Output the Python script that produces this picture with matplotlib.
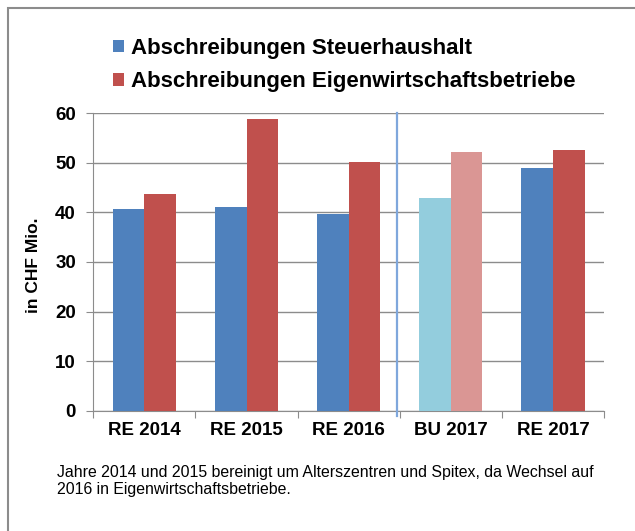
import matplotlib.pyplot as plt
import numpy as np
from matplotlib.patches import Rectangle

plt.rcParams['font.family'] = ['Liberation Sans', 'DejaVu Sans']

# data
categories = ["RE 2014", "RE 2015", "RE 2016", "BU 2017", "RE 2017"]
steuerhaushalt = [40.7, 41.1, 39.7, 42.9, 48.9]
eigenwirtschaft = [43.7, 58.9, 50.2, 52.1, 52.5]
series_names = ["Abschreibungen Steuerhaushalt", "Abschreibungen Eigenwirtschaftsbetriebe"]
footnote = ("Jahre 2014 und 2015 bereinigt um Alterszentren und Spitex, da Wechsel auf\n"
            "2016 in Eigenwirtschaftsbetriebe.")

blue_cols = ["#4F81BD", "#4F81BD", "#4F81BD", "#93CDDD", "#4F81BD"]
red_cols = ["#C0504D", "#C0504D", "#C0504D", "#DA9694", "#C0504D"]

fig = plt.figure(figsize=(6.35, 5.31), dpi=100)
W, H = 635, 531
ax = fig.add_axes([93.3 / W, 1 - 410.7 / H, (604 - 93.3) / W, (410.7 - 113.3) / H])

x = np.arange(len(categories))
w = 0.31
b1 = ax.bar(x - w / 2, steuerhaushalt, w, color=blue_cols, zorder=3)
b2 = ax.bar(x + w / 2, eigenwirtschaft, w, color=red_cols, zorder=3)

ax.set_xlim(-0.5, len(categories) - 0.5)
ax.set_ylim(0, 60)
ax.set_yticks(range(0, 61, 10))
ax.yaxis.grid(True, color="#8c8c8c", linewidth=1.0, zorder=0)

# category separators on x axis
ax.set_xticks(np.arange(-0.5, len(categories), 1.0))
ax.set_xticklabels([])
ax.set_xticks(x, minor=True)
ax.set_xticklabels(categories, minor=True, fontsize=13.5, fontweight="bold")
ax.tick_params(axis="x", which="major", length=5, color="#8c8c8c", direction="out")
ax.tick_params(axis="x", which="minor", length=0, pad=8)
ax.tick_params(axis="y", length=5, color="#8c8c8c", labelsize=13.5, pad=7.5)
for lbl in ax.get_yticklabels():
    lbl.set_fontweight("bold")

for s in ["top", "right"]:
    ax.spines[s].set_visible(False)
for s in ["left", "bottom"]:
    ax.spines[s].set_color("#8c8c8c")

# separator between actuals and budget
ax.axvline(2.47, ymin=-0.018, ymax=1.0, color="#7FA7DC", linewidth=1.6, zorder=4, clip_on=False)

ax.set_ylabel("in CHF Mio.", fontsize=12.5, fontweight="bold", va="center")
ax.yaxis.set_label_coords(33 / W, 1 - 265 / H, transform=fig.transFigure)

leg = fig.legend([b1[0], b2[0]], series_names, loc="upper left",
                 bbox_to_anchor=(113 / W, 1 - 38 / H), frameon=False,
                 prop={"size": 16, "weight": "bold"}, borderpad=0, borderaxespad=0,
                 handlelength=0.5, handleheight=0.5, handletextpad=0.3,
                 labelspacing=0.55)

fig.text(57 / W, 1 - 481 / H, footnote, fontsize=11.4, va="center", ha="left",
         linespacing=1.2)

# outer border (only top and left visible)
fig.patches.append(Rectangle((7.5 / W, -0.1), 1.2, 1 - 8 / H + 0.1,
                             transform=fig.transFigure, fill=False,
                             edgecolor="#8c8c8c", linewidth=1.5))

fig.savefig("out.png", dpi=100)
